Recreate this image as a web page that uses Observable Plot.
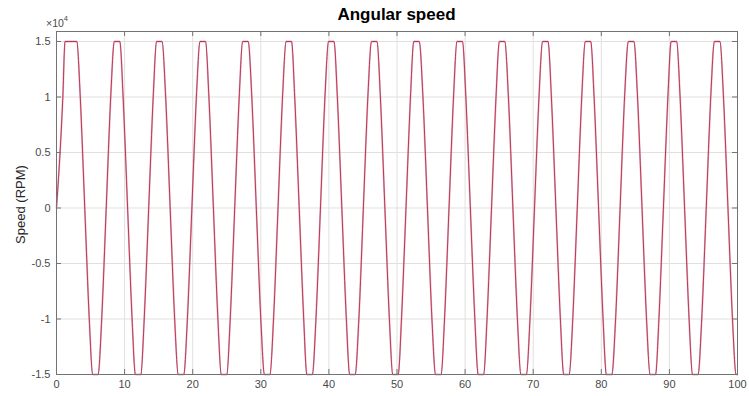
<!DOCTYPE html>
<html><head><meta charset="utf-8">
<script src="https://cdn.jsdelivr.net/npm/d3@7"></script>
<script src="https://cdn.jsdelivr.net/npm/@observablehq/plot@0.6"></script>
<style>
  body { margin: 0; background: #fff; }
  #chart svg { display: block; }
</style>
</head><body><div id="chart"></div>
<script>
// ---- chart text ----
const titleText = "Angular speed";
const yLabelText = "Speed (RPM)";
const exponentBase = "\u00d710";
const exponentPower = "4";

// ---- ticks ----
const xTicks = [0, 10, 20, 30, 40, 50, 60, 70, 80, 90, 100];
const yTicks = [-15000, -10000, -5000, 0, 5000, 10000, 15000];
const yTickLabels = ["-1.5", "-1", "-0.5", "0", "0.5", "1", "1.5"];
const xDomain = [0, 100];
const yDomain = [-15000, 15900];

// ---- series (time of each level crossing) ----
const clipLevel = 15000;   // saturation level (RPM)
const midLevel = 10000;    // +/-1 x10^4 crossing level
const peakStart = [1.25, 8.50, 14.70, 21.08, 27.34, 33.72, 39.95, 46.26, 52.46, 58.81, 65.03, 71.38, 77.65, 83.98, 90.26, 96.62];
const peakEnd   = [2.98, 9.30, 15.50, 21.88, 28.14, 34.52, 40.75, 47.06, 53.26, 59.61, 65.83, 72.18, 78.45, 84.78, 91.06, 97.42];
const troughStart = [5.32, 11.58, 17.88, 24.20, 30.54, 36.76, 43.05, 49.38, 55.67, 61.92, 68.20, 74.48, 80.74, 87.17, 93.40, 99.80];
const troughEnd   = [6.10, 12.38, 18.68, 25.00, 31.34, 37.56, 43.85, 50.18, 56.47, 62.72, 69.00, 75.28, 81.54, 87.97, 94.20, 100];
const zeroCross = [0, 4.15, 7.30, 10.44, 13.54, 16.69, 19.88, 23.04, 26.17, 29.34, 32.53, 35.64, 38.76, 41.90, 45.06, 48.22, 51.32, 54.47, 57.64, 60.77, 63.88, 67.02, 70.19, 73.33, 76.47, 79.60, 82.76, 85.98, 89.12, 92.23, 95.41, 98.60];
const posMidCross = [0.93, 3.49, 7.96, 9.78, 14.20, 16.03, 20.54, 22.38, 26.83, 28.68, 33.19, 34.98, 39.42, 41.24, 45.72, 47.56, 51.98, 53.81, 58.30, 60.11, 64.54, 66.36, 70.85, 72.67, 77.13, 78.94, 83.42, 85.32, 89.78, 91.57, 96.07, 97.94];
const negMidCross = [4.81, 6.64, 11.10, 12.88, 17.35, 19.22, 23.70, 25.51, 30.00, 31.87, 36.30, 38.10, 42.56, 44.40, 48.88, 50.66, 55.13, 56.98, 61.43, 63.22, 67.68, 69.53, 73.99, 75.81, 80.26, 82.10, 86.64, 88.46, 92.89, 94.75, 99.26];

// ---- build table ----
const pts = [];
const add = (ts, v) => ts.forEach(t => pts.push({ t, v }));
add(zeroCross, 0);
add(posMidCross, midLevel);
add(negMidCross, -midLevel);
add(peakStart, clipLevel);
add(peakEnd, clipLevel);
add(troughStart, -clipLevel);
add(troughEnd, -clipLevel);
pts.sort((a, b) => a.t - b.t);

// ---- layout ----
const W = 749, H = 396;
const mL = 56, mR = 12, mT = 31, mB = 22;
const frameW = W - mL - mR, frameH = H - mT - mB;
const tickLen = 5;
const axisGray = "#737373";
const gridGray = "#e0e0e0";
const font = "'Liberation Sans', Arial, Helvetica, sans-serif";

const chart = Plot.plot({
  width: W, height: H,
  marginLeft: mL, marginRight: mR, marginTop: mT, marginBottom: mB,
  style: { fontFamily: font, fontSize: "11px", color: "#4a4a4a", background: "#fff", overflow: "visible" },
  x: { domain: xDomain, label: null },
  y: { domain: yDomain, label: null },
  marks: [
    Plot.gridX(xTicks, { stroke: gridGray, strokeOpacity: 1 }),
    Plot.gridY(yTicks, { stroke: gridGray, strokeOpacity: 1 }),
    Plot.line(pts, { x: "t", y: "v", curve: "monotone-x", stroke: "#df93a6", strokeWidth: 1.8, strokeOpacity: 0.7 }),
    Plot.line(pts, { x: "t", y: "v", curve: "monotone-x", stroke: "#a81c3e", strokeWidth: 0.8 }),
    Plot.frame({ stroke: axisGray, strokeWidth: 1 }),
    Plot.tickX(xTicks, { insetBottom: frameH - tickLen, stroke: axisGray }),
    Plot.tickX(xTicks, { insetTop: frameH - tickLen, stroke: axisGray }),
    Plot.tickY(yTicks, { insetRight: frameW - tickLen, stroke: axisGray }),
    Plot.tickY(yTicks, { insetLeft: frameW - tickLen, stroke: axisGray }),
    Plot.axisX(xTicks, { tickSize: 0, tickPadding: 6, tickFormat: d => String(d), fill: "#4a4a4a" }),
    Plot.axisY(yTicks, { tickSize: 0, tickPadding: 6, tickFormat: d => yTickLabels[yTicks.indexOf(d)], fill: "#4a4a4a" })
  ]
});
document.getElementById("chart").appendChild(chart);

// ---- annotations ----
const svg = d3.select(chart);
svg.append("text")
  .attr("x", mL + frameW / 2).attr("y", 20)
  .attr("text-anchor", "middle")
  .attr("font-family", font).attr("font-size", 17).attr("font-weight", "bold")
  .attr("fill", "#000")
  .text(titleText);

const ex = svg.append("text")
  .attr("x", mL + 1).attr("y", 27)
  .attr("font-family", font).attr("font-size", 10.5)
  .attr("fill", "#4a4a4a");
ex.append("tspan").text(exponentBase);
ex.append("tspan").attr("dy", -6).attr("font-size", 7.5).text(exponentPower);

svg.append("text")
  .attr("transform", `translate(22, ${mT + frameH / 2 + 2}) rotate(-90)`)
  .attr("text-anchor", "middle")
  .attr("dominant-baseline", "middle")
  .attr("font-family", font).attr("font-size", 13)
  .attr("fill", "#262626")
  .text(yLabelText);
</script>
</body></html>
